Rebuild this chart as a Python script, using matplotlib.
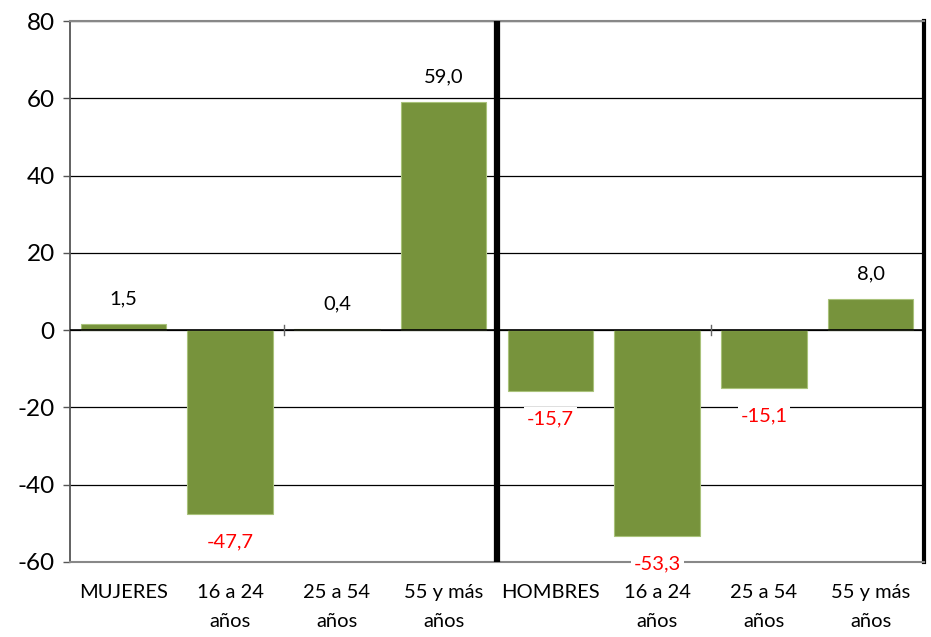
import matplotlib.pyplot as plt

categories = ["MUJERES", "16 a 24\naños", "25 a 54\naños", "55 y más\naños",
              "HOMBRES", "16 a 24\naños", "25 a 54\naños", "55 y más\naños"]
values = [1.5, -47.7, 0.4, 59.0, -15.7, -53.3, -15.1, 8.0]
yticks = [-60, -40, -20, 0, 20, 40, 60, 80]

plt.rcParams['font.family'] = ['Lato', 'DejaVu Sans']

fig = plt.figure(figsize=(9.31, 6.37), dpi=100)
ax = fig.add_axes([70 / 931, 1 - 562 / 637, 854 / 931, 541 / 637])

x = list(range(len(categories)))
ax.bar(x, values, width=0.8, color="#77933C", edgecolor="#a9c27a", linewidth=0.8, zorder=3)

ax.set_xlim(-0.5, 7.5)
ax.set_ylim(-60, 80)
ax.set_yticks(yticks)
ax.set_yticklabels([str(v) for v in yticks], fontsize=17.5)
ax.grid(axis="y", color="black", linewidth=0.9, zorder=1)
ax.axhline(0, color="black", linewidth=1.2, zorder=4)

ax.set_xticks(x)
ax.set_xticklabels(categories, fontsize=14.5, linespacing=1.85, va="top")
ax.tick_params(axis="x", length=0, pad=16)
ax.tick_params(axis="y", length=5, width=1, color="#555555", pad=6)

# small tick marks on the zero line
for xt in [1.5, 5.5]:
    ax.plot([xt, xt], [-1.3, 1.3], color="#666666", linewidth=1, zorder=5)

for sp in ["top", "bottom"]:
    ax.spines[sp].set_color("#888888")
    ax.spines[sp].set_linewidth(1.5)
ax.spines["left"].set_color("#555555")
ax.spines["left"].set_linewidth(1.3)
ax.spines["right"].set_color("black")
ax.spines["right"].set_linewidth(3)

# divider between groups
ax.axvline(3.5, color="black", linewidth=4.5, zorder=6)

for xi, v in zip(x, values):
    label = f"{v:.1f}".replace(".", ",")
    if v >= 0:
        ax.annotate(label, (xi, v), xytext=(0, 18), textcoords="offset points",
                    ha="center", va="center", fontsize=14.5, color="black", zorder=7)
    else:
        ax.annotate(label, (xi, v), xytext=(0, -20), textcoords="offset points",
                    ha="center", va="center", fontsize=14.5, color="red", zorder=7,
                    bbox=dict(facecolor="white", edgecolor="none", pad=2))

fig.savefig("out.png", dpi=100)
